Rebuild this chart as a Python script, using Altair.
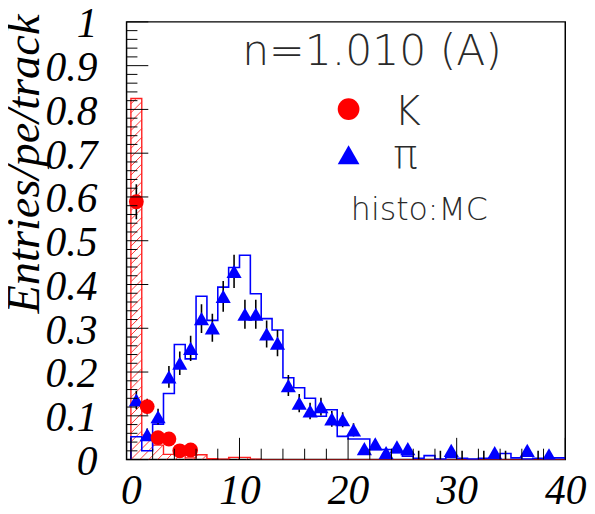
import altair as alt
import pandas as pd
import numpy as np

# ---------------- data (bins of width 1 from 0 to 40) ----------------
bin_lo = list(range(40))

# MC pi histogram (blue step line)
pi_mc = [0.052, 0.020, 0.081, 0.151, 0.263, 0.230, 0.373, 0.318, 0.394, 0.439,
         0.467, 0.379, 0.322, 0.296, 0.187, 0.164, 0.140, 0.099, 0.114, 0.053,
         0.047, 0.047, 0.023, 0.023, 0.016, 0.008, 0.003, 0.009, 0.001, 0.005,
         0.003, 0.001, 0.003, 0.004, 0.014, 0.004, 0.001, 0.003, 0.003, 0.004]

# MC K histogram (red hatched)
k_mc = [0.825, 0.056, 0.033, 0.012, 0.010, 0.004, 0.011, 0.002, 0.001, 0.005,
        0.005, 0.001, 0.0, 0.0, 0.0, 0.0, 0.0, 0.0, 0.0, 0.0,
        0.0, 0.0, 0.0, 0.0, 0.0, 0.0, 0.0, 0.0, 0.0, 0.0,
        0.0, 0.0, 0.0, 0.0, 0.0, 0.0, 0.0, 0.0, 0.0, 0.0]

# pi data (blue triangles), 0 = empty bin
pi_data = [0.136, 0.057, 0.098, 0.189, 0.220, 0.254, 0.322, 0.301, 0.373, 0.430,
           0.332, 0.332, 0.287, 0.266, 0.169, 0.129, 0.111, 0.121, 0.093, 0.091,
           0.068, 0.025, 0.036, 0.016, 0.029, 0.025, 0.0, 0.0, 0.0, 0.021,
           0.0, 0.0, 0.0, 0.016, 0.0, 0.0, 0.021, 0.0, 0.011, 0.0]
pi_err = [0.021, 0.014, 0.018, 0.025, 0.027, 0.029, 0.033, 0.032, 0.035, 0.038,
          0.033, 0.033, 0.031, 0.030, 0.024, 0.021, 0.019, 0.020, 0.018, 0.017,
          0.015, 0.009, 0.011, 0.007, 0.010, 0.009, 0.020, 0.0, 0.020, 0.008,
          0.020, 0.0, 0.020, 0.007, 0.020, 0.0, 0.008, 0.020, 0.006, 0.0]

# K data (red circles)
k_bins = [0, 1, 2, 3, 4, 5]
k_data = [0.589, 0.121, 0.050, 0.047, 0.020, 0.022]
k_err = [0.040, 0.018, 0.012, 0.011, 0.007, 0.007]

x_ticks_major = [0, 10, 20, 30, 40]
x_ticks_minor = [t for t in range(0, 41, 2) if t % 10 != 0]
y_ticks_major = [round(i * 0.1, 1) for i in range(11)]
y_ticks_minor = [round(i * 0.02, 2) for i in range(51) if i % 5 != 0]

# ---------------- layout ----------------
W, H = 444, 443
X_DOM = [-0.4, 40]
LEFT, TOP = 120, 11  # padding so plot starts at page (128, 19)

xs = alt.Scale(domain=X_DOM, nice=False, zero=False)
ys = alt.Scale(domain=[0, 1], nice=False, zero=False)

SERIF = "Liberation Serif"
SANS = "'DejaVu Sans Light', 'DejaVu Sans ExtraLight', 'DejaVu Sans'"

x_axis = alt.Axis(values=x_ticks_major, format="d", ticks=False, domain=False, grid=False,
                  labelFont=SERIF, labelFontStyle="italic", labelFontSize=42,
                  labelFontWeight="normal",
                  labelColor="black", labelPadding=11, labelFlush=False,
                  labelOverlap=False, title=None)
y_axis = alt.Axis(values=y_ticks_major, format=".1~f", ticks=False, domain=False, grid=False,
                  labelFont=SERIF, labelFontStyle="italic", labelFontSize=42,
                  labelFontWeight="normal", labelOffset=2,
                  labelColor="black", labelPadding=30, labelFlush=False,
                  labelOverlap=False, labelBaseline="middle",
                  title="Entries/pe/track", titleFont=SERIF, titleFontStyle="italic",
                  titleFontWeight="normal", titleFontSize=47, titleColor="black",
                  titleAngle=270, titleAlign="right", titleBaseline="middle",
                  titleX=-103, titleY=-8)


def X(f):
    return alt.X(f, type="quantitative", scale=xs, axis=x_axis)


def Y(f):
    return alt.Y(f, type="quantitative", scale=ys, axis=y_axis)


# step outlines
def step_df(vals):
    xsv = [0] + bin_lo + [40, 40]
    ysv = [0] + list(vals) + [vals[-1], 0]
    return pd.DataFrame({"x": xsv, "y": ysv, "i": range(len(xsv))})


blue_hist = alt.Chart(step_df(pi_mc)).mark_line(
    interpolate="step-after", color="#0000ff", strokeWidth=1.6, clip=True
).encode(x=X("x"), y=Y("y"), order="i:Q")

red_hist = alt.Chart(step_df(k_mc)).mark_line(
    interpolate="step-after", color="#ff2020", strokeWidth=1.4, clip=True
).encode(x=X("x"), y=Y("y"), order="i:Q")

# hatch pattern of the K histogram (45 degree lines in pixel space)
px_per_x = W / (X_DOM[1] - X_DOM[0])
slope = px_per_x / H
gap = 9.0 / H
rows = []
for k, h in enumerate(k_mc):
    if h <= 0:
        continue
    xl, xr = k, k + 1
    jmin = int(np.floor(-slope * xr / gap)) - 1
    jmax = int(np.ceil(h / gap)) + 1
    for j in range(jmin, jmax + 1):
        c = j * gap
        xa = max(xl, (0 - c) / slope)
        xb = min(xr, (h - c) / slope)
        if xb > xa + 1e-9:
            rows.append({"x": xa, "y": slope * xa + c, "x2": xb, "y2": slope * xb + c})
hatch = alt.Chart(pd.DataFrame(rows)).mark_rule(color="#ff2020", strokeWidth=0.9, clip=True).encode(
    x=X("x"), y=Y("y"), x2="x2:Q", y2="y2:Q")

# data points
pi_df = pd.DataFrame({"xc": [b + 0.5 for b in bin_lo], "v": pi_data, "e": pi_err})
pi_df["lo"] = (pi_df["v"] - pi_df["e"]).clip(lower=0)
pi_df["hi"] = pi_df["v"] + pi_df["e"]
pi_bars = alt.Chart(pi_df[pi_df["e"] > 0]).mark_rule(color="black", strokeWidth=1.6, clip=True).encode(
    x=X("xc"), y=Y("lo"), y2="hi:Q")
pi_pts = alt.Chart(pi_df[pi_df["v"] > 0]).mark_point(
    shape="triangle-up", filled=True, size=235, color="#0000ff", opacity=1, clip=True
).encode(x=X("xc"), y=Y("v"))

k_df = pd.DataFrame({"xc": [b + 0.5 for b in k_bins], "v": k_data, "e": k_err})
k_df["lo"] = (k_df["v"] - k_df["e"]).clip(lower=0)
k_df["hi"] = k_df["v"] + k_df["e"]
k_bars = alt.Chart(k_df).mark_rule(color="black", strokeWidth=1.6, clip=True).encode(
    x=X("xc"), y=Y("lo"), y2="hi:Q")
k_pts = alt.Chart(k_df).mark_point(
    shape="circle", filled=True, size=225, color="#ff0000", opacity=1, clip=True
).encode(x=X("xc"), y=Y("v"))

# inward ticks
x_tick_major = alt.Chart(pd.DataFrame({"t": x_ticks_major})).mark_rule(color="black", strokeWidth=1).encode(
    x=X("t"), y=alt.value(H), y2=alt.value(H - 22))
x_tick_minor = alt.Chart(pd.DataFrame({"t": x_ticks_minor})).mark_rule(color="black", strokeWidth=1).encode(
    x=X("t"), y=alt.value(H), y2=alt.value(H - 11))
y_tick_major = alt.Chart(pd.DataFrame({"t": y_ticks_major})).mark_rule(color="black", strokeWidth=1).encode(
    y=Y("t"), x=alt.value(0), x2=alt.value(22))
y_tick_minor = alt.Chart(pd.DataFrame({"t": y_ticks_minor})).mark_rule(color="black", strokeWidth=1).encode(
    y=Y("t"), x=alt.value(0), x2=alt.value(11))


# annotation texts (page position minus plot origin 128,19)
def txt(s, px, py, size):
    return alt.Chart(pd.DataFrame({"s": [s]})).mark_text(
        font=SANS, fontSize=size, fontWeight=200, color="#2a2a2a", align="left",
        baseline="alphabetic").encode(text="s:N", x=alt.value(px - 128), y=alt.value(py - 19))


t1 = txt("n=1.010 (A)", 245, 63, 43)
t2 = txt("K", 399, 123, 41)
t3 = txt("π", 398, 167, 41)
t4 = txt("histo:MC", 355, 220, 32)
leg_k = alt.Chart(pd.DataFrame({"a": [0]})).mark_point(
    shape="circle", filled=True, size=484, color="#ff0000", opacity=1).encode(
    x=alt.value(352.7 - 128), y=alt.value(107.3 - 19))
leg_pi = alt.Chart(pd.DataFrame({"a": [0]})).mark_point(
    shape="triangle-up", filled=True, size=484, color="#0000ff", opacity=1).encode(
    x=alt.value(352.7 - 128), y=alt.value(153.5 - 19))

chart = alt.layer(
    hatch, red_hist, blue_hist, pi_bars, k_bars, pi_pts, k_pts,
    x_tick_major, x_tick_minor, y_tick_major, y_tick_minor,
    t1, t2, t3, t4, leg_k, leg_pi
).properties(
    width=W, height=H,
    autosize=alt.AutoSizeParams(type="none"),
    padding={"left": LEFT, "top": TOP, "right": 22, "bottom": 50},
    background="white"
).configure_view(stroke="black", strokeWidth=1.5)

chart.save("out.html", embed_options={"renderer": "svg", "actions": False})
